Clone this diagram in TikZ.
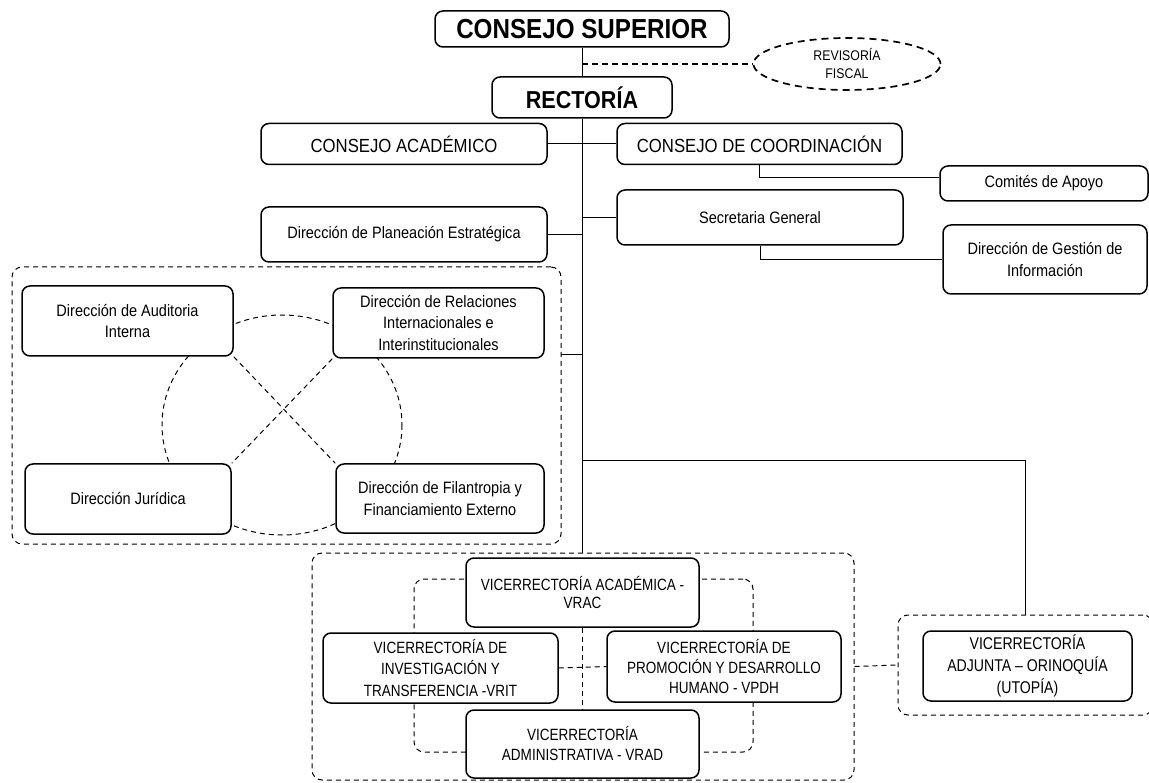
\documentclass[tikz,border=0pt]{standalone}
\usepackage{fontspec}
\setmainfont{Liberation Sans}
\newfontfamily\nf[FakeStretch=0.88]{Liberation Sans}
\newfontfamily\vf[FakeStretch=0.83]{Liberation Sans}
\usetikzlibrary{shapes.geometric}
\tikzset{
  box/.style={draw=black, line width=1.5pt, rounded corners=8pt, fill=white,
    align=center, inner sep=0pt, font=\nf\fontsize{16.5}{21.7}\selectfont},
  vbox/.style={box, font=\vf\fontsize{16.3}{21}\selectfont},
  grp/.style={draw=black, line width=1pt, dash pattern=on 5pt off 4pt,
    rounded corners=10pt, inner sep=0pt},
  conn/.style={line width=1pt},
  dconn/.style={line width=1pt, dash pattern=on 5pt off 4pt},
}
\begin{document}
\begin{tikzpicture}[x=1pt,y=-1pt]
\useasboundingbox (0,0) rectangle (1149,783);
\fill[white] (0,0) rectangle (1149,783);
\clip (0,0) rectangle (1149,783);

% ---------- groups (background) ----------
\node[grp, minimum width=549pt, minimum height=277pt] (lgroup) at (286.5,405.5) {};
\node[grp, minimum width=542pt, minimum height=227pt] (vgroup) at (583,666.5) {};
\node[grp, minimum width=339pt, minimum height=173pt] (inner) at (583.5,665.5) {};
\node[grp, minimum width=255pt, minimum height=100pt] (agroup) at (1025.5,665) {};

% dashed circle in left group
\draw[dconn] (282,425) ellipse [x radius=120, y radius=110];

% ---------- top ----------
\node[box, minimum width=294pt, minimum height=36pt,
  font=\nf\bfseries\fontsize{27.5}{30}\selectfont] (csup) at (582,29) {CONSEJO SUPERIOR};
\node[box, minimum width=180pt, minimum height=41pt,
  font=\nf\bfseries\fontsize{24.5}{28}\selectfont] (rect) at (582,97.5) {RECTORÍA};
\node[ellipse, draw=black, line width=1.7pt, dash pattern=on 7pt off 5pt, fill=white,
  minimum width=187pt, minimum height=52pt, inner sep=0pt, align=center,
  font=\nf\fontsize{14}{18}\selectfont] (rev) at (847,64) {REVISORÍA\\FISCAL};

\node[box, minimum width=286pt, minimum height=41pt, font=\nf\fontsize{19}{22}\selectfont]
  (cacad) at (404,144) {CONSEJO ACADÉMICO};
\node[box, minimum width=285pt, minimum height=41pt, font=\nf\fontsize{19}{22}\selectfont]
  (ccoord) at (759.5,144) {CONSEJO DE COORDINACIÓN};
\node[box, minimum width=208pt, minimum height=35pt] (comites) at (1044,183.5) {Comités de Apoyo};
\node[box, minimum width=286pt, minimum height=55pt] (plan) at (404,234.5) {Dirección de Planeación Estratégica};
\node[box, minimum width=286pt, minimum height=55pt] (sec) at (760,217.5) {Secretaria General};
\node[box, minimum width=204pt, minimum height=69pt] (gestion) at (1045,259.5) {Dirección de Gestión de\\Información};

% ---------- left group ----------
\node[box, minimum width=211pt, minimum height=70pt] (aud) at (127.5,321) {Dirección de Auditoria\\Interna};
\node[box, minimum width=211pt, minimum height=70pt] (rel) at (438.5,323) {Dirección de Relaciones\\Internacionales e\\Interinstitucionales};
\node[box, minimum width=206pt, minimum height=70pt] (jur) at (128,499) {Dirección Jurídica};
\node[box, minimum width=208pt, minimum height=69pt] (fil) at (440,498.5) {Dirección de Filantropia y\\Financiamiento Externo};
\draw[dconn] (aud.south east) -- (fil.north west);
\draw[dconn] (rel.south west) -- (jur.north east);

% ---------- vicerrectorias ----------
\node[vbox, minimum width=233pt, minimum height=69pt, font=\vf\fontsize{16.3}{18.5}\selectfont]
  (vrac) at (582.5,592.5) {VICERRECTORÍA ACADÉMICA -\\VRAC};
\node[vbox, minimum width=235pt, minimum height=70pt, font=\vf\fontsize{16.3}{21.7}\selectfont]
  (vrit) at (440.5,668) {VICERRECTORÍA DE\\INVESTIGACIÓN Y\\TRANSFERENCIA -VRIT};
\node[vbox, minimum width=234pt, minimum height=71pt, font=\vf\fontsize{16.3}{20}\selectfont]
  (vpdh) at (724,666.5) {VICERRECTORÍA DE\\PROMOCIÓN Y DESARROLLO\\HUMANO - VPDH};
\node[vbox, minimum width=233pt, minimum height=68pt, font=\vf\fontsize{16.3}{20}\selectfont]
  (vrad) at (582.5,744) {VICERRECTORÍA\\ADMINISTRATIVA - VRAD};
\node[box, minimum width=209pt, minimum height=70pt, font=\vf\fontsize{17}{21.7}\selectfont]
  (adj) at (1027.5,666) {VICERRECTORÍA\\ADJUNTA – ORINOQUÍA\\(UTOPÍA)};

\draw[dconn] (vrac.south) -- (vrad.north);
\draw[dconn] (vrit.east) -- (vpdh.west);
\draw[dconn] (vgroup.east) -- (agroup.west);

% ---------- connectors ----------
\draw[conn] (csup.south) -- (rect.north);
\draw[line width=1.3pt, dash pattern=on 6pt off 4pt] (rect.south |- rev.west) -- (rev.west);
\draw[conn] (rect.south) -- (rect.south |- vgroup.north);
\draw[conn] (cacad.east) -- (ccoord.west);
\draw[conn] ([xshift=-0.5pt]ccoord.south) |- ([yshift=5.5pt]comites.west);
\draw[conn] (plan.east) -- (plan.east -| rect.south);
\draw[conn] (sec.west) -- (sec.west -| rect.south);
\draw[conn] (sec.south) |- (gestion.west);
\coordinate (lg) at (561,355);
\draw[conn] (lg) -- (lg -| rect.south);
\draw[conn] (rect.south |- 0,461) -| (agroup.north);
\end{tikzpicture}
\end{document}
